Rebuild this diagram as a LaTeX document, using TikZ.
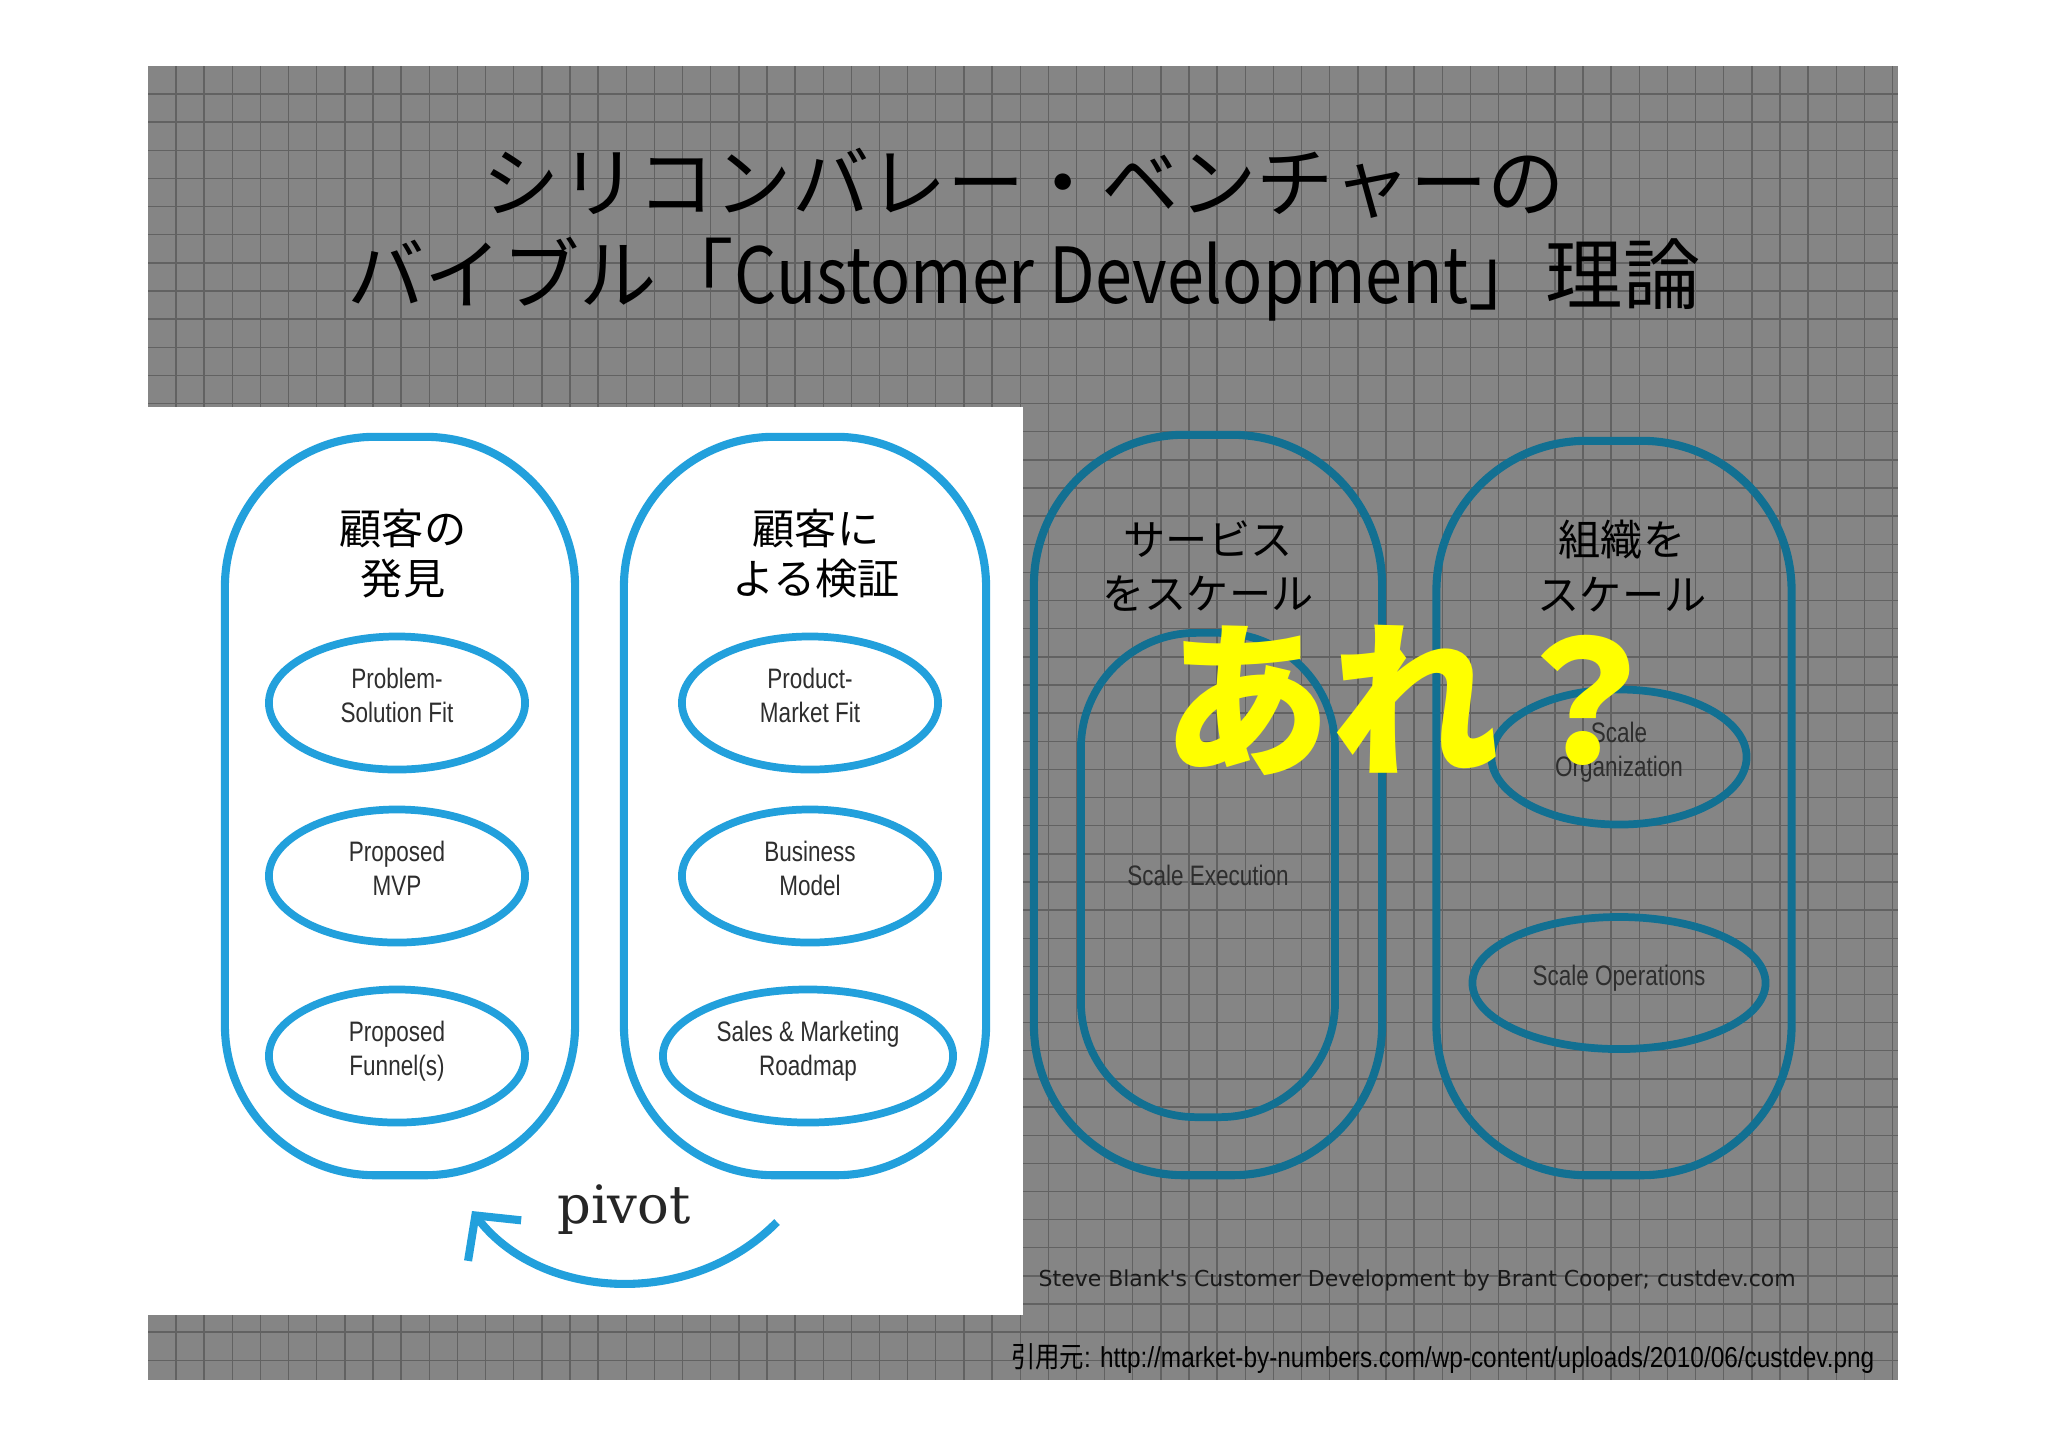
\documentclass[tikz,border=0pt]{standalone}
\usepackage{fontspec}
\setmainfont{Noto Sans CJK JP}
\newfontfamily\jpfont{Noto Sans CJK JP}
\newfontfamily\titlelatin[FakeStretch=0.86]{Noto Sans CJK JP}
\newfontfamily\condfont[FakeStretch=0.8]{Liberation Sans}
\newfontfamily\slabfont{DejaVu Serif}
\newfontfamily\creditfont{DejaVu Sans}
\newfontfamily\urlfont[FakeStretch=0.845]{Liberation Sans}
\newfontfamily\urljp[FakeStretch=0.845]{Noto Sans CJK JP}
\usetikzlibrary{arrows.meta,positioning,shapes.geometric}

\definecolor{slidegray}{HTML}{858585}
\definecolor{gridgray}{HTML}{626262}
\definecolor{crayonblue}{HTML}{22A0DC}
\definecolor{crayonteal}{HTML}{127092}
\definecolor{alertyellow}{HTML}{FFFF00}
\definecolor{inkgray}{HTML}{2E2E2E}

\begin{document}
\begin{tikzpicture}[
    x=0.01cm, y=-0.01cm,
    gridline/.style={gridgray, line width=0.4pt},
    pill/.style={draw, line width=2.3pt, rounded corners=1.5cm, inner sep=0pt},
    oval/.style={ellipse, line width=2.2pt, inner sep=0pt, align=center, text depth=4.5pt, text=inkgray, font=\condfont\fontsize{8}{9.7}\selectfont},
    blueoval/.style={oval, draw=crayonblue},
    tealoval/.style={oval, draw=crayonteal},
    phase/.style={align=center, font=\fontsize{12}{14.2}\selectfont},
    pivotarrow/.style={-{Straight Barb[length=9pt,width=19pt]}, line width=2.3pt, crayonblue}
]
\useasboundingbox (0,0) rectangle (2048,1447);
\fill[white] (0,0) rectangle (2048,1447);

% slide background with grid
\fill[slidegray] (148,66) rectangle (1898,1380);
\foreach \k in {0,...,61} \draw[gridline] ({176+28.14*\k},66) -- ({176+28.14*\k},1380);
\foreach \k in {0,...,45} \draw[gridline] (148,{94+28.14*\k}) -- (1898,{94+28.14*\k});
\fill[white] (148,407) rectangle (1023,1315);

% title
\node[font=\fontsize{22}{26.2}\selectfont, align=center] (title) at (1024,235) {シリコンバレー・ベンチャーの\\バイブル「{\titlelatin Customer Development}」理論};

% left phases (search)
\node[pill, draw=crayonblue, minimum width=3.5cm, minimum height=7.38cm] (discovery) at (400,806) {};
\node[pill, draw=crayonblue, minimum width=3.62cm, minimum height=7.38cm] (validation) at (805,806) {};
\node[phase] (discoverytitle) at (403,554) {顧客の\\発見};
\node[phase] (validationtitle) at (816,554) {顧客に\\よる検証};

\node[blueoval, minimum width=2.56cm, minimum height=1.33cm] (psfit) at (397,703) {Problem-\\Solution Fit};
\node[blueoval, minimum width=2.56cm, minimum height=1.33cm] (mvp) at (397,876) {Proposed\\MVP};
\node[blueoval, minimum width=2.56cm, minimum height=1.33cm] (funnel) at (397,1056) {Proposed\\Funnel(s)};
\node[blueoval, minimum width=2.56cm, minimum height=1.33cm] (pmfit) at (810,703) {Product-\\Market Fit};
\node[blueoval, minimum width=2.56cm, minimum height=1.33cm] (bizmodel) at (810,876) {Business\\Model};
\node[blueoval, minimum width=2.90cm, minimum height=1.33cm] (roadmap) at (808,1056) {Sales \& Marketing\\Roadmap};

% pivot
\node[font=\slabfont\fontsize{15}{18}\selectfont, text=black!85] (pivot) at (624,1210) {pivot};
\coordinate (pivotfrom) at (777,1222);
\coordinate (pivotto) at (472,1211);
\draw[pivotarrow] (pivotfrom) .. controls (690,1310) and (540,1300) .. (pivotto);

% right phases (execution)
\node[pill, draw=crayonteal, minimum width=3.48cm, minimum height=7.40cm] (scaleservice) at (1208,805) {};
\node[pill, draw=crayonteal, minimum width=3.55cm, minimum height=7.34cm] (scaleorg) at (1614,808) {};
\node[phase, font=\fontsize{12}{15.6}\selectfont] (servicetitle) at (1208,566) {サービス\\をスケール};
\node[phase, font=\fontsize{12}{15.6}\selectfont] (orgtitle) at (1622,566) {組織を\\スケール};

\node[pill, draw=crayonteal, line width=2.2pt, rounded corners=1.15cm, minimum width=2.54cm, minimum height=4.84cm, text=inkgray, font=\condfont\fontsize{8}{9.7}\selectfont] (execution) at (1208,875) {Scale Execution};
\node[tealoval, minimum width=2.55cm, minimum height=1.35cm] (organization) at (1619,757) {Scale\\Organization};
\node[tealoval, minimum width=2.93cm, minimum height=1.32cm] (operations) at (1619,983) {Scale Operations};

% credits
\node[font=\creditfont\fontsize{6.25}{7.4}\selectfont, anchor=west, inner sep=0pt, text=black!90] (credit) at (1038,1280) {Steve Blank's Customer Development by Brant Cooper; custdev.com};
\node[font=\urlfont\fontsize{8.2}{9}\selectfont, anchor=east, inner sep=0pt] (source) at (1875,1358) {{\urljp 引用元}: http://market-by-numbers.com/wp-content/uploads/2010/06/custdev.png};

% the question
\node[font=\bfseries\fontsize{48}{52}\selectfont, text=alertyellow, inner sep=0pt] (huh) at (1416,700) {あれ？};

\end{tikzpicture}
\end{document}
